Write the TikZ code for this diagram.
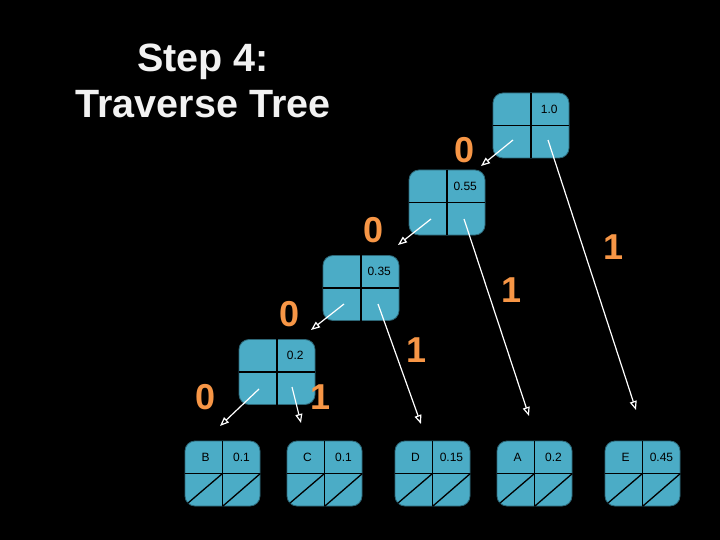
\documentclass[tikz,border=0pt]{standalone}
\usepackage{fontspec}
\setmainfont{Liberation Sans}
\usetikzlibrary{arrows.meta,calc}
\definecolor{cellblue}{HTML}{4BACC6}
\definecolor{bitorange}{HTML}{F79646}
\definecolor{titlewhite}{HTML}{F2F2F2}
\begin{document}
\begin{tikzpicture}[x=1pt,y=-1pt,
  box/.style={draw=cellblue!60!black, line width=0.8pt, fill=cellblue, rounded corners=10pt,
    minimum width=76pt, minimum height=65pt, inner sep=0pt},
  cellline/.style={black, line width=1.3pt},
  cellt/.style={font=\fontsize{12}{14}\selectfont, text=black, inner sep=0pt},
  bit/.style={font=\fontsize{36}{40}\selectfont\bfseries, text=bitorange, inner sep=0pt},
  titletext/.style={font=\fontsize{39.5}{44}\selectfont\bfseries, text=titlewhite, anchor=base, inner sep=0pt},
  link/.style={white, line width=1.2pt, -{Triangle[open,length=9pt,width=7pt]}},
]
\fill[black] (0,0) rectangle (720,540);

\node[titletext] (t1) at (203,72) {Step 4:};
\node[titletext] (t2) at (203,118) {Traverse Tree};

% internal nodes
\foreach \n/\x/\y/\v in {n1/531/125.5/1.0, n2/447/202.5/0.55, n3/361/288/0.35, n4/277/372/0.2}{
  \node[box] (\n) at (\x,\y) {};
  \draw[cellline] (\n.north) -- (\n.south);
  \draw[cellline] (\n.west) -- (\n.east);
  \node[cellt] at ($(\n.center)!0.5!(\n.north east)+(-1,0)$) {\v};
}

% leaves
\foreach \n/\x/\s/\v in {lb/222.5/B/0.1, lc/324.5/C/0.1, ld/432.5/D/0.15, la/534.5/A/0.2, le/642.5/E/0.45}{
  \node[box, minimum width=75pt] (\n) at (\x,473.5) {};
  \draw[cellline] (\n.north) -- (\n.south);
  \draw[cellline] (\n.west) -- (\n.east);
  \draw[cellline] ($(\n.south west)+(3,-3)$) -- (\n.center);
  \draw[cellline] (\n.south) -- (\n.east);
  \node[cellt] at ($(\n.center)!0.5!(\n.north west)+(2,0)$) {\s};
  \node[cellt] at ($(\n.center)!0.5!(\n.north east)$) {\v};
}

% arrow start points
\coordinate (s1l) at (513,140); \coordinate (s1r) at (548,140);
\coordinate (s2l) at (431,219); \coordinate (s2r) at (464,219);
\coordinate (s3l) at (344,304); \coordinate (s3r) at (378,304);
\coordinate (s4l) at (259,389); \coordinate (s4r) at (292,387);
% arrow tips
\coordinate (e1l) at (481,166); \coordinate (e1r) at (636,410);
\coordinate (e2l) at (398,245); \coordinate (e2r) at (529,416);
\coordinate (e3l) at (311,330); \coordinate (e3r) at (421,424);
\coordinate (e4l) at (220,426); \coordinate (e4r) at (301,423);

\foreach \a/\b in {s1l/e1l, s1r/e1r, s2l/e2l, s2r/e2r, s3l/e3l, s3r/e3r, s4l/e4l, s4r/e4r}
  \draw[link] (\a) -- (\b);

% bit labels
\node[bit] (b1) at (465,150) {0};
\node[bit] (b2) at (614,247) {1};
\node[bit] (b3) at (374,230) {0};
\node[bit] (b4) at (512,290) {1};
\node[bit] (b5) at (290,314) {0};
\node[bit] (b6) at (417,350) {1};
\node[bit] (b7) at (206,397) {0};
\node[bit] (b8) at (321,397) {1};
\end{tikzpicture}
\end{document}
